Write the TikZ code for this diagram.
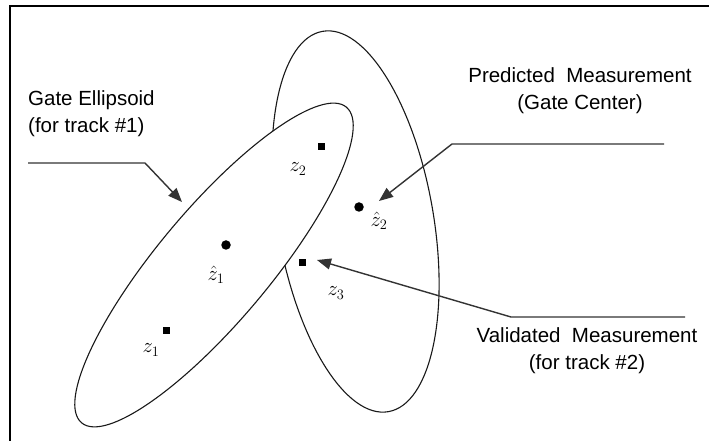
\documentclass[tikz,border=0pt]{standalone}
\usepackage{fontspec}
\setmainfont{Liberation Sans}
\usetikzlibrary{arrows.meta}
\begin{document}
\begin{tikzpicture}[x=1pt,y=1pt,
  ell/.style={line width=1.1pt, draw=black!90},
  lead/.style={line width=1.4pt, draw=black!80, -{Triangle[length=14pt,width=11pt]}},
  meas/.style={rectangle, fill=black, minimum size=7pt, inner sep=0pt},
  pred/.style={circle, fill=black, minimum size=9.5pt, inner sep=0pt},
  lbl/.style={font=\fontsize{22}{26}\selectfont, inner sep=0pt},
  txt/.style={font=\fontsize{20.5}{27}\selectfont, align=center, inner sep=0pt}]
\useasboundingbox (0,0) rectangle (709,441);
\fill[white] (0,0) rectangle (709,441);
\draw[line width=2pt] (10,0) -- (10,435) -- (709,435);
% gates
\draw[ell] (355.5,219.5) ellipse[x radius=193pt, y radius=78pt, rotate=-80.2];
\draw[ell, fill=white] (214,176) ellipse[x radius=206pt, y radius=56pt, rotate=50];
% measurements and predictions
\node[meas] (z1) at (166,110) {};
\node[meas] (z2) at (321,294) {};
\node[meas] (z3) at (302,178) {};
\node[pred] (zh1) at (226,196) {};
\node[pred] (zh2) at (359,234) {};
\node[lbl] (lz1) at (151,91) {$z_1$};
\node[lbl] (lz2) at (298,272) {$z_2$};
\node[lbl] (lz3) at (336,148) {$z_3$};
\node[lbl] (lzh1) at (216,166) {$\hat z_1$};
\node[lbl] (lzh2) at (379,220) {$\hat z_2$};
% texts
\node[txt, anchor=west, align=left] (gate) at (28,327.5) {Gate Ellipsoid\\(for track \#1)};
\node[txt] (pm) at (580,350.5) {Predicted\ \ Measurement\\(Gate Center)};
\node[txt] (vm) at (587,90.5) {Validated\ \ Measurement\\(for track \#2)};
% leaders
\coordinate (g0) at (28,278); \coordinate (g1) at (145,278); \coordinate (g2) at (182,239);
\coordinate (p0) at (664,297); \coordinate (p1) at (452,297); \coordinate (p2) at (379,240);
\coordinate (v0) at (685,124); \coordinate (v1) at (511,124); \coordinate (v2) at (317,181);
\draw[lead] (g0) -- (g1) -- (g2);
\draw[lead] (p0) -- (p1) -- (p2);
\draw[lead] (v0) -- (v1) -- (v2);
\end{tikzpicture}
\end{document}
